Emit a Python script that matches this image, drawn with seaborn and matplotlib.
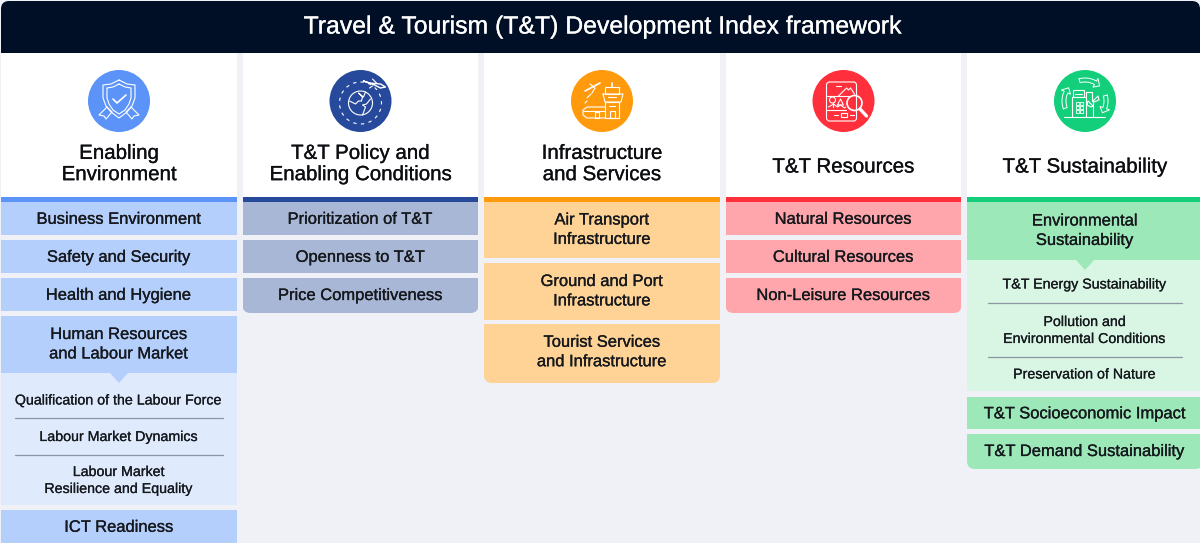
import numpy as np
import seaborn as sns
import matplotlib.pyplot as plt
import matplotlib.patheffects as pe
from matplotlib.patches import Circle, FancyBboxPatch, Rectangle, Polygon
from matplotlib.transforms import Affine2D

# content
TITLE = "Travel & Tourism (T&T) Development Index framework"
PILLARS = ["Enabling\nEnvironment", "T&T Policy and\nEnabling Conditions",
           "Infrastructure\nand Services", "T&T Resources", "T&T Sustainability"]
ROWS = [
    ["Business Environment", "Safety and Security", "Health and Hygiene",
     "Human Resources\nand Labour Market", "ICT Readiness"],
    ["Prioritization of T&T", "Openness to T&T", "Price Competitiveness"],
    ["Air Transport\nInfrastructure", "Ground and Port\nInfrastructure",
     "Tourist Services\nand Infrastructure"],
    ["Natural Resources", "Cultural Resources", "Non-Leisure Resources"],
    ["Environmental\nSustainability", "T&T Socioeconomic Impact", "T&T Demand Sustainability"],
]
# row heights in pixels, with the gap above each one
ROW_HEIGHTS = [[33, 33, 33, 57, 33], [33, 33, 35], [56, 57, 59], [33, 33, 35], [58, 32, 35]]
ROW_GAPS = [[0, 5, 5, 5, 137], [0, 5, 5], [0, 5, 4], [0, 5, 5], [0, 137, 5]]

# second level items, opened under one row of a pillar
SUB_ITEMS = {
    0: ["Qualification of the Labour Force", "Labour Market Dynamics",
        "Labour Market\nResilience and Equality"],
    4: ["T&T Energy Sustainability", "Pollution and\nEnvironmental Conditions",
        "Preservation of Nature"],
}
SUB_HEIGHTS = {0: [45, 37, 50], 4: [43, 54, 34]}
SUB_PARENT = {0: 3, 4: 0}

STRIPE = ["#5B93F8", "#27499B", "#FF9A0D", "#FF303B", "#13CF7C"]
ROW_COL = ["#B5CFFC", "#A9B7D6", "#FFD295", "#FFA6AC", "#9DE8B9"]
SUB_COL = {0: "#DFEAFD", 4: "#D8F6E3"}
BG = "#EFF1F6"
NAVY = "#000F26"
INK = "#15181D"

sns.set_theme(style="white")
plt.rcParams['font.family'] = ['Liberation Sans', 'DejaVu Sans']

fig, ax = plt.subplots(figsize=(12, 5.43), dpi=100)
fig.subplots_adjust(0, 0, 1, 1)
fig.patch.set_facecolor(BG)
ax.set_facecolor(BG)

STEP = 241.5      # pixels between column centres
FIRST = 119.0     # pixel centre of first column
BAR_W = 236 / STEP
TOP = 197

# pixel space -> data space (categorical x, pixel y)
PX = Affine2D().scale(1 / STEP, 1).translate(-FIRST / STEP, 0) + ax.transData


def bar(col, top, height, color):
    sns.barplot(x=[PILLARS[col]], y=[height], order=PILLARS, bottom=top, color=color,
                saturation=1, width=BAR_W, errorbar=None, linewidth=0, ax=ax)
    return ax.patches[-1]


def label(col, y, text, size, spacing, weight=0.2, color=INK):
    t = ax.text(col, y, text, ha='center', va='center', fontsize=size, color=color,
                linespacing=spacing)
    t.set_path_effects([pe.withStroke(linewidth=weight, foreground=color)])
    return t


def round_bottom(patch, col, r=8):
    # clip the square bar to a box with rounded lower corners
    x0 = FIRST + col * STEP - 118
    y0 = patch.get_y() - 30
    clip = FancyBboxPatch((x0 + r, y0 + r), 236 - 2 * r, patch.get_height() + 30 - 2 * r,
                          boxstyle=f"round,pad={r},rounding_size={r}", transform=PX)
    patch.set_clip_path(clip)


def at(col):
    return Affine2D().translate(FIRST + col * STEP, 101) + PX


def ln(tr, xs, ys, lw=0.8):
    ax.plot(xs, ys, color='white', lw=lw, transform=tr, solid_capstyle='round',
            solid_joinstyle='round', scalex=False, scaley=False, zorder=4)


def box(tr, x, y, w, h, lw=0.8):
    ax.add_patch(Rectangle((x, y), w, h, fill=False, ec='white', lw=lw, transform=tr, zorder=4))


def ring(tr, x, y, r, lw=0.8, **kw):
    ax.add_patch(Circle((x, y), r, fill=False, ec='white', lw=lw, transform=tr, zorder=4, **kw))


def icon_shield(tr):
    ln(tr, [0, 8, 16, 16, 13, 8, 0, -8, -13, -16, -16, -8, 0],
       [-21, -17, -16, -3, 5, 11, 17, 11, 5, -3, -16, -17, -21])
    ln(tr, [0, 6, 12, 12, 10, 6, 0, -6, -10, -12, -12, -6, 0],
       [-17, -14, -13, -3, 3, 9, 13, 9, 3, -3, -13, -14, -17])
    ln(tr, [-6, -2, 7], [-2, 2, -6], lw=1.2)
    ln(tr, [-12, -20, -15, -13, -7, -12], [6, 14, 15, 18, 11, 6])
    ln(tr, [12, 20, 15, 13, 7, 12], [6, 14, 15, 18, 11, 6])


def icon_globe(tr):
    ring(tr, 0, 2, 12)
    ring(tr, 0, 2, 21, linestyle=(0, (3, 4)))
    ln(tr, [-11, -5, -2, 1, 2, -2, 3, 5], [0, 3, 0, 0, -4, -8, -4, -9])
    ln(tr, [2, 5, 2, 6, 10], [14, 6, 4, 3, -2])
    ln(tr, [3, 14, 20, 25, 20, 9, 3], [-20, -16, -13, -14, -17, -18, -20], lw=1)
    ln(tr, [12, 9], [-15, -13])
    ln(tr, [16, 12], [-18, -22])


def icon_airport(tr):
    box(tr, 3, 1, 14, 16)
    ln(tr, [1, 21, 19, 3, 1], [-7, -7, 1, 1, -7])
    box(tr, 3, -14, 14, 7)
    ln(tr, [10, 10], [-14, -18], lw=1.2)
    ln(tr, [6, 14], [-4, -4])
    ln(tr, [7, 13], [5, 5])
    ln(tr, [3, -15, -19, -19, -15, 3], [6, 6, 9, 14, 17, 17])
    ln(tr, [-19, 3], [10, 10])
    box(tr, -7, 11, 4, 6)
    box(tr, 8, 10, 5, 7)
    ln(tr, [-17, -2], [-10, -18], lw=1.2)
    ln(tr, [-12, -7, -10], [-17, -13, -8])
    ln(tr, [-15, -11], [-3, -7])
    ln(tr, [-15, -17], [0, 2])


def icon_resources(tr):
    ax.add_patch(FancyBboxPatch((-16, -18), 28, 37, boxstyle="round,pad=1,rounding_size=3",
                                fill=False, ec='white', lw=0.8, transform=tr, zorder=4))
    ln(tr, [-17, 5], [-5, -5])
    ln(tr, [-17, 2], [9, 9])
    ln(tr, [-5, 3, 5, 7, 11], [-5, -13, -11, -13, -7])
    ln(tr, [-8, -3], [-15, -15])
    ring(tr, -11, -1, 3)
    ln(tr, [-11, -11], [2, 6])
    ln(tr, [-6, -3, 0, -6], [4, -2, 4, 4])
    ln(tr, [-15, -10, -6, -3, 1, 2], [6, 3, 6, 4, 7, 6])
    ln(tr, [-10, -6], [14, 14])
    ln(tr, [6, 10], [14, 14])
    box(tr, -3, 12, 6, 4)
    ring(tr, 11, 2, 7.5, lw=1.2)
    ln(tr, [16.5, 23], [8, 15], lw=2.4)


def arrow_band(tr, a1, a2):
    # curved arrow outline, clockwise on screen
    t = np.radians(np.arange(a1, a2 + 1, 5))
    tip = np.radians(a2 + 14)
    end = np.radians(a2)
    xs = np.r_[23 * np.cos(t), 26 * np.cos(end), 21 * np.cos(tip), 16 * np.cos(end), 19 * np.cos(t[::-1])]
    ys = np.r_[23 * np.sin(t), 26 * np.sin(end), 21 * np.sin(tip), 16 * np.sin(end), 19 * np.sin(t[::-1])]
    ln(tr, np.r_[xs, xs[0]], np.r_[ys, ys[0]], lw=0.7)


def icon_sustain(tr):
    ln(tr, [-21, 20], [16, 16])
    ln(tr, [-13, -13, 1, 1], [16, -4, -4, 16])
    box(tr, -12, -11, 11, 7)
    ln(tr, [-10, -3], [-7, -7])
    for xx in (-9, -5):
        for yy in (1, 5, 9):
            box(tr, xx, yy, 2.5, 2.5, lw=0.6)
    ln(tr, [1, 1, 7, 7], [-4, -9, -9, 0])
    ln(tr, [8, 8], [16, -1])
    ln(tr, [8, 13, 14, 9, 8], [0, -5, -1, 1, 0])
    ln(tr, [8, 3, 2, 6, 8], [5, 0, 4, 6, 5])
    arrow_band(tr, -105, -60)
    arrow_band(tr, -15, 20)
    arrow_band(tr, 160, 205)


ICONS = [icon_shield, icon_globe, icon_airport, icon_resources, icon_sustain]

# header band
hdr = Rectangle((0, 1), 1200, 52, fc=NAVY, ec='none', transform=PX)
ax.add_patch(hdr)
hdr.set_clip_path(FancyBboxPatch((9, 9), 1183, 100, boxstyle="round,pad=8,rounding_size=8",
                                 transform=PX))
tt = ax.text(0, 26.5, TITLE, ha='center', va='center', fontsize=17.85, color='white')
tt.set_transform(Affine2D().translate(601.5, 0) + PX)
tt.set_path_effects([pe.withStroke(linewidth=0.2, foreground='white')])

for i, name in enumerate(PILLARS):
    bar(i, 53, TOP - 53, 'white')
    bar(i, TOP, 5, STRIPE[i])
    label(i, 164 if '\n' in name else 167, name, 14.75, 1.15, color="#0C0E12")

    tr = at(i)
    ax.add_patch(Circle((0, 0), 31, fc=STRIPE[i], ec='none', transform=tr, zorder=3))
    ICONS[i](tr)

    y = TOP + 5
    n = len(ROWS[i])
    for j, text in enumerate(ROWS[i]):
        y += ROW_GAPS[i][j]
        h = ROW_HEIGHTS[i][j]
        p = bar(i, y, h, ROW_COL[i])
        rounded = j == n - 1 and i != 0
        if rounded:
            round_bottom(p, i)
        nudge = -1.5 if rounded and '\n' in text else (-0.3 if '\n' in text else (0 if rounded else 0.8))
        label(i, y + h / 2 + nudge, text, 11.9, 1.37)

        if SUB_PARENT.get(i) == j:
            s = y + h
            bar(i, s, sum(SUB_HEIGHTS[i]), SUB_COL[i])
            cx = FIRST + i * STEP
            ax.add_patch(Polygon([[cx - 9, s], [cx + 9, s], [cx, s + 10]], fc=ROW_COL[i],
                                 ec='none', transform=PX))
            for k, sub in enumerate(SUB_ITEMS[i]):
                sh = SUB_HEIGHTS[i][k]
                first_off = 5 if i == 0 else 3
                label(i, s + sh / 2 + (first_off if k == 0 else 0.5), sub, 10.25, 1.27, weight=0.15)
                s += sh
                if k < 2:
                    half = 104 if i == 0 else 97
                    ax.plot([cx - half, cx + half], [s, s], color="#8B96A3", lw=0.9, transform=PX,
                            scalex=False, scaley=False)

        y += h

ax.set_xlim(-FIRST / STEP, (1200 - FIRST) / STEP)
ax.set_ylim(543, 0)
ax.axis('off')

fig.savefig("out.png", dpi=100, facecolor=BG)
